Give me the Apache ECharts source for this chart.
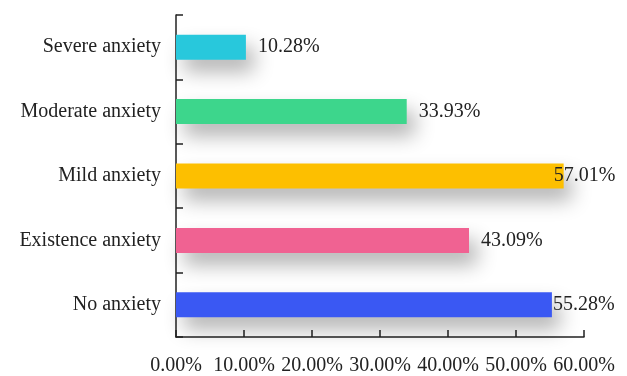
<!DOCTYPE html>
<html><head><meta charset="utf-8">
<script src="https://cdn.jsdelivr.net/npm/echarts@6/dist/echarts.min.js"></script>
<style>html,body{margin:0;padding:0;background:#fff}#c{width:627px;height:376px}</style>
</head><body><div id="c"></div>
<script>
const categories = ['No anxiety', 'Existence anxiety', 'Mild anxiety', 'Moderate anxiety', 'Severe anxiety'];
const values = [55.28, 43.09, 57.01, 33.93, 10.28];
const barColors = ['#3a58f3', '#f06292', '#fdbf00', '#3dd68c', '#28c8dc'];
const labelOffsets = [-11, 0, -22, 0, 0];

const font = '"Liberation Serif", "Times New Roman", serif';
const chart = echarts.init(document.getElementById('c'));
chart.setOption({
  animation: false,
  grid: { left: 176, right: 43, top: 15, bottom: 38 },
  xAxis: {
    type: 'value', min: 0, max: 60, interval: 10,
    axisLine: { show: true, lineStyle: { color: '#222', width: 1.5 } },
    axisTick: { show: true, inside: true, length: 7, lineStyle: { color: '#222', width: 1.5 } },
    splitLine: { show: false },
    axisLabel: { margin: 19, color: '#222', fontFamily: font, fontSize: 20,
      formatter: v => v.toFixed(2) + '%' }
  },
  yAxis: {
    type: 'category', data: categories,
    axisLine: { show: true, lineStyle: { color: '#222', width: 1.5 } },
    axisTick: { show: true, inside: true, length: 7, lineStyle: { color: '#222', width: 1.5 } },
    axisLabel: { margin: 15, color: '#222', fontFamily: font, fontSize: 20 }
  },
  series: [{
    type: 'bar',
    barWidth: 25,
    data: values.map((v, i) => ({
      value: v,
      itemStyle: { color: barColors[i] },
      label: { offset: [labelOffsets[i], 0] }
    })),
    itemStyle: {
      shadowColor: 'rgba(0,0,0,0.3)', shadowBlur: 20, shadowOffsetX: 8, shadowOffsetY: 12
    },
    label: {
      show: true, position: 'right', distance: 12,
      color: '#222', fontFamily: font, fontSize: 20,
      formatter: p => p.value.toFixed(2) + '%'
    }
  }]
});
</script></body></html>
